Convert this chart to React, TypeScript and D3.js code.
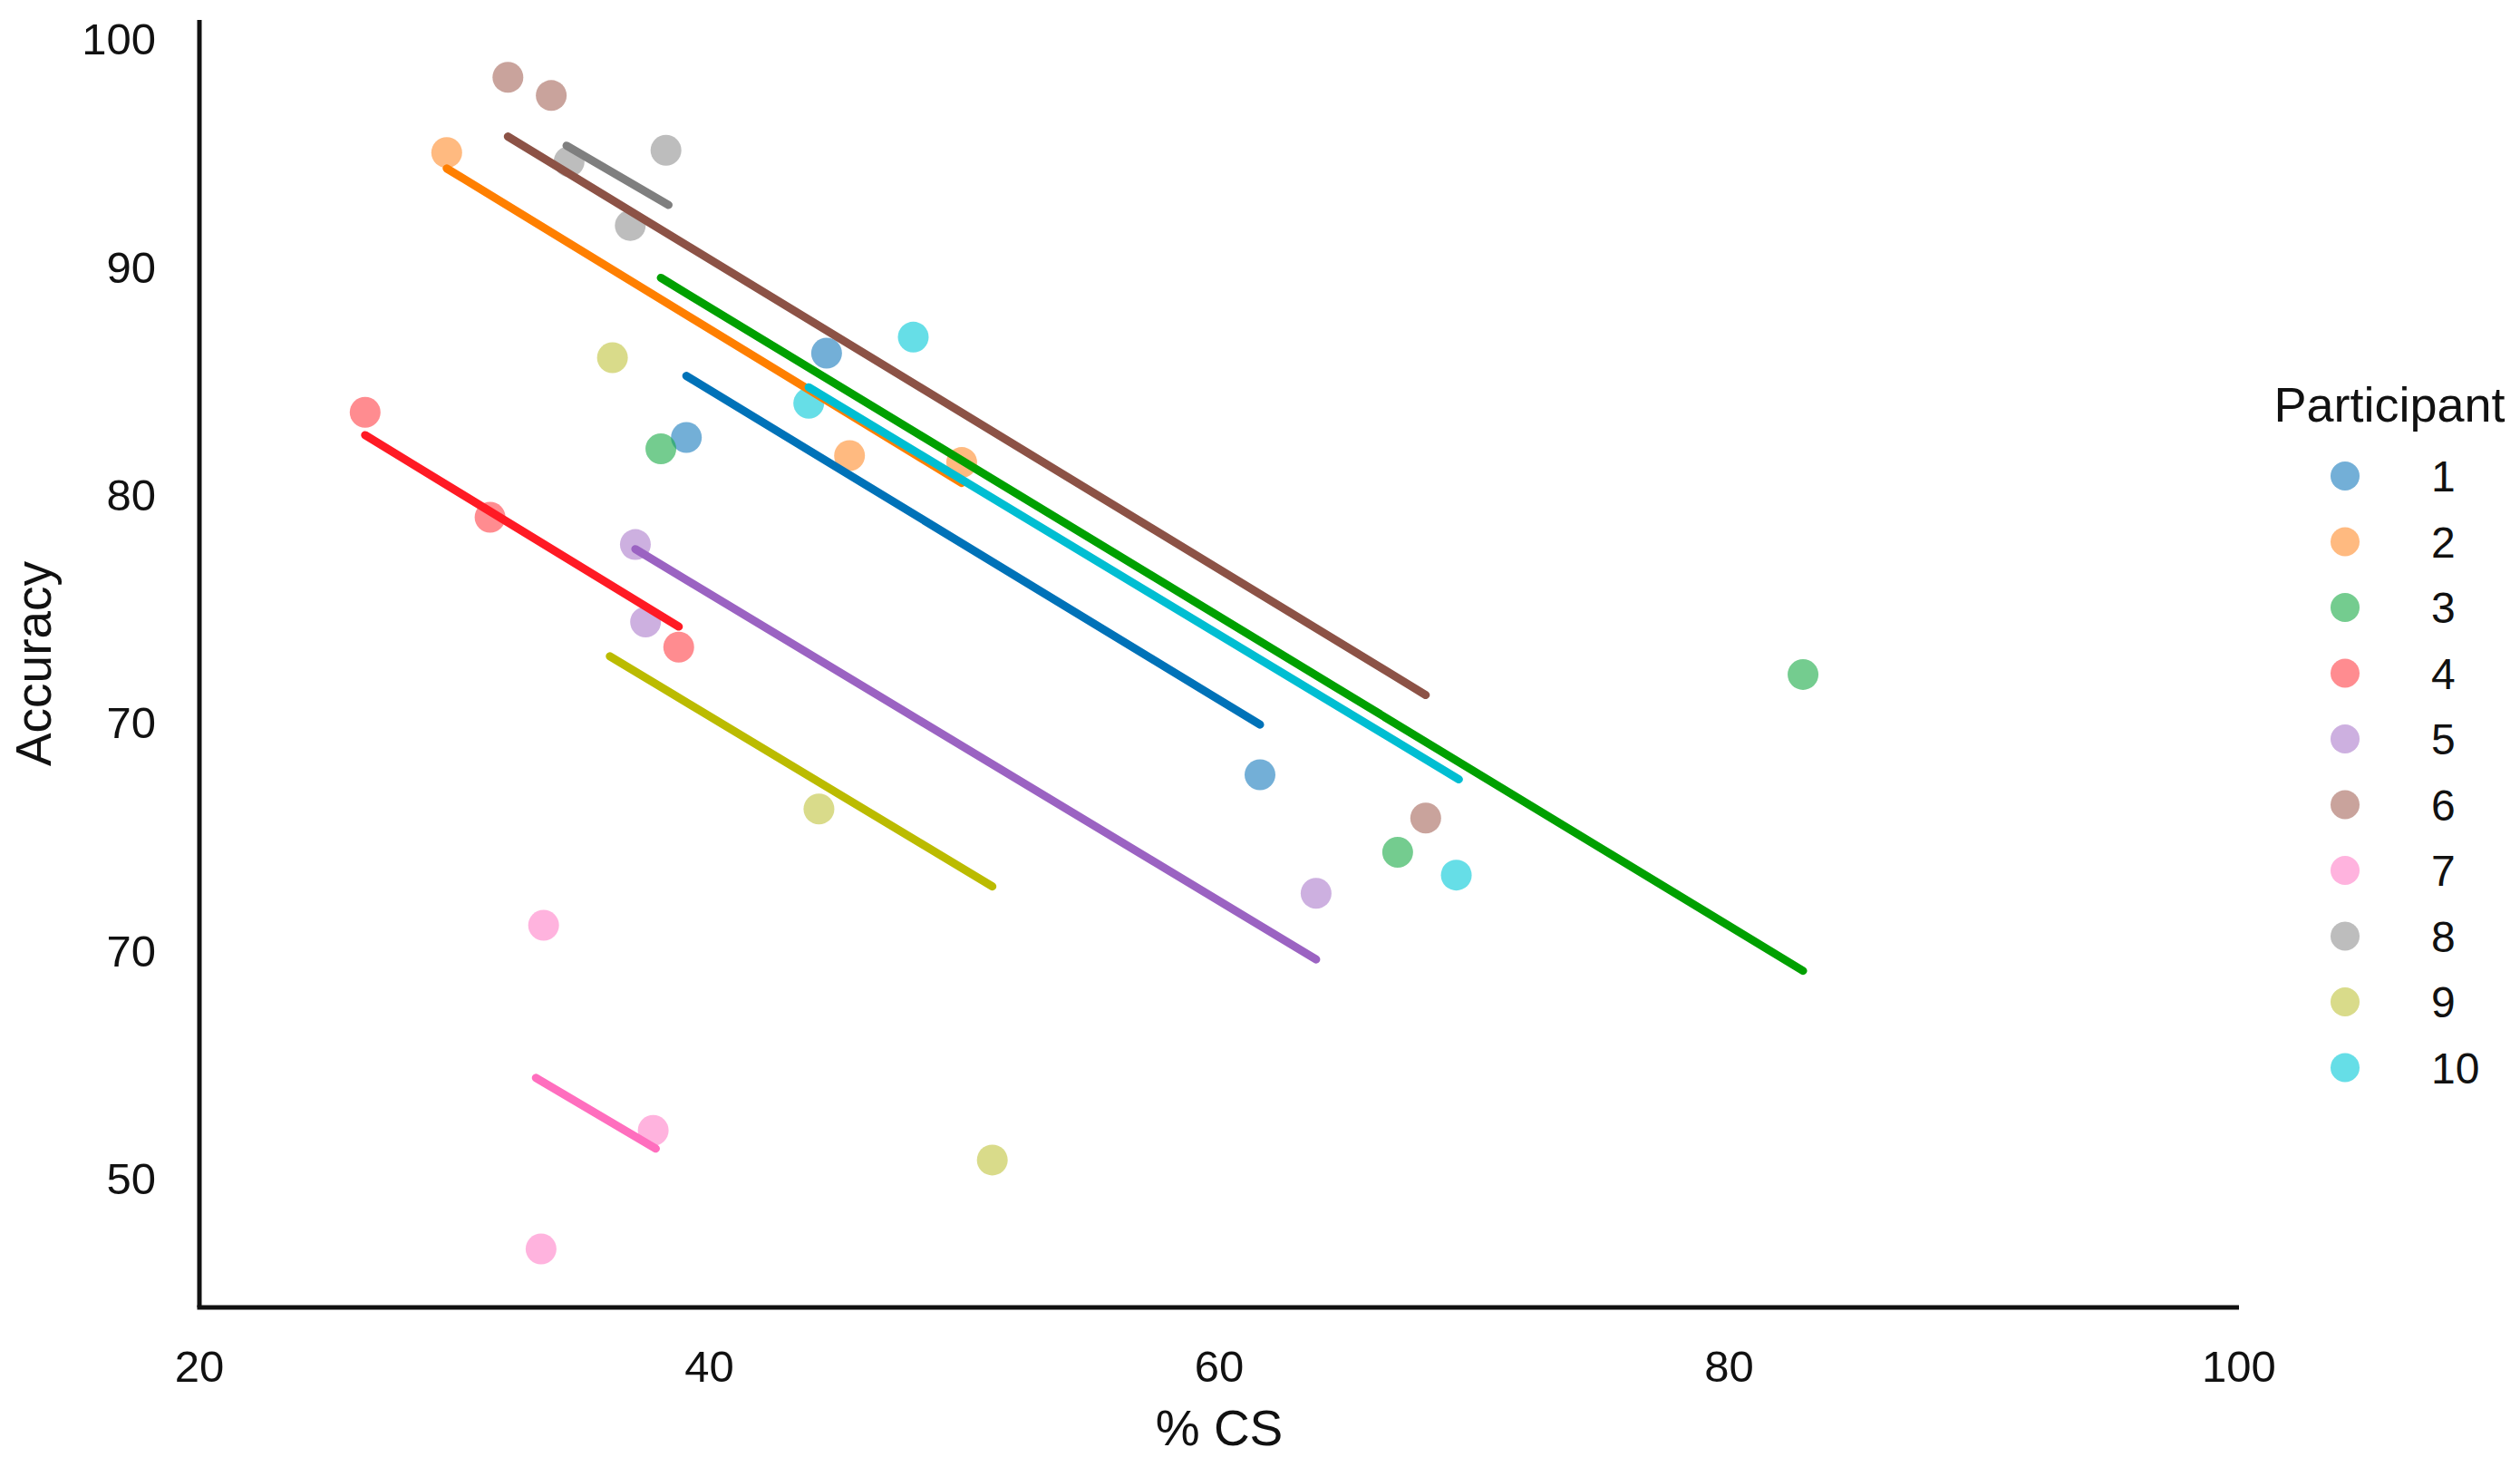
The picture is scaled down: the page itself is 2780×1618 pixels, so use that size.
import React from 'react';
import * as d3 from 'd3';

// values
const participants = ['1', '2', '3', '4', '5', '6', '7', '8', '9', '10'];

const csPct = [
  [44.6, 39.1, 61.6],
  [29.7, 45.5, 49.9],
  [38.1, 67.0, 82.9],
  [26.5, 31.4, 38.8],
  [37.1, 37.5, 63.8],
  [32.1, 33.8, 68.1],
  [33.5, 37.8, 33.4],
  [34.5, 38.3, 36.9],
  [36.2, 44.3, 51.1],
  [48.0, 43.9, 69.3],
];

const accuracy = [
  [86.2, 82.5, 67.7],
  [95.0, 81.7, 81.4],
  [82.0, 64.3, 72.1],
  [83.6, 79.0, 73.3],
  [77.8, 74.4, 62.5],
  [98.3, 97.5, 65.8],
  [61.1, 52.1, 46.9],
  [94.6, 95.1, 91.8],
  [86.0, 66.2, 50.8],
  [86.9, 84.0, 63.3],
];

// fitted line ends (x from, x to, y from, y to)
const fitX0 = [39.1, 29.7, 38.1, 26.5, 37.1, 32.1, 33.2, 34.4, 36.1, 43.9];
const fitX1 = [61.6, 49.9, 82.9, 38.8, 63.8, 68.1, 37.9, 38.4, 51.1, 69.4];
const fitY0 = [85.2, 94.3, 89.5, 82.6, 77.6, 95.7, 54.4, 95.3, 72.9, 84.7];
const fitY1 = [69.9, 80.5, 59.1, 74.2, 59.6, 71.2, 51.3, 92.7, 62.8, 67.5];

const pointColors = ['#1579bd', '#ff8c2b', '#17aa44', '#ff3f46', '#ac7bcb', '#a5665a', '#ff80c8', '#919191', '#c0c33c', '#00c8d7'];
const lineColors = ['#0072b8', '#ff7f00', '#00a000', '#ff1a24', '#9b63c2', '#8c5246', '#ff6ebe', '#7f7f7f', '#bbbb00', '#00bed2'];

const xTicks = [20, 40, 60, 80, 100];
const yTicks = [100, 90, 80, 70, 60, 50];
const yTickLabels = ['100', '90', '80', '70', '70', '50'];

const W = 2780;
const H = 1618;
const font = 'Liberation Sans, Arial, Helvetica, sans-serif';

export default function App() {
  const x = d3.scaleLinear().domain([20, 100]).range([220, 2470]);
  const y = d3.scaleLinear().domain([50, 100]).range([1299.5, 42.5]);
  const yTop = 22;
  const yBottom = 1442;

  const line = d3
    .line<[number, number]>()
    .x(d => x(d[0]))
    .y(d => y(d[1]));

  return (
    <div style={{ position: 'absolute', left: 0, top: 0 }}>
      <svg width={W} height={H} style={{ display: 'block', background: '#fff' }}>
        {/* points */}
        <g>
          {participants.map((p, i) =>
            csPct[i].map((cx, j) => (
              <circle
                key={p + '-' + j}
                cx={x(cx)}
                cy={y(accuracy[i][j])}
                r={17}
                fill={pointColors[i]}
                fillOpacity={0.6}
              />
            ))
          )}
        </g>

        {/* fitted lines */}
        <g fill="none" strokeWidth={9} strokeLinecap="round">
          {participants.map((p, i) => (
            <path
              key={'fit-' + p}
              d={line([[fitX0[i], fitY0[i]], [fitX1[i], fitY1[i]]]) || ''}
              stroke={lineColors[i]}
            />
          ))}
        </g>

        {/* spines */}
        <line x1={x(20)} x2={x(20)} y1={yTop} y2={yBottom} stroke="#111" strokeWidth={5} />
        <line x1={x(20) - 2.5} x2={x(100)} y1={yBottom} y2={yBottom} stroke="#111" strokeWidth={5} />

        {/* x tick labels */}
        <g fontFamily={font} fontSize={49} fill="#111" textAnchor="middle">
          {xTicks.map(t => (
            <text key={'xt' + t} x={x(t)} y={1524}>
              {t}
            </text>
          ))}
        </g>

        {/* y tick labels */}
        <g fontFamily={font} fontSize={49} fill="#111" textAnchor="end">
          {yTicks.map((t, i) => (
            <text key={'yt' + i} x={172} y={y(t)} dy="0.36em">
              {yTickLabels[i]}
            </text>
          ))}
        </g>

        {/* axis titles */}
        <text x={x(60)} y={1594} fontFamily={font} fontSize={55} fill="#111" textAnchor="middle">
          % CS
        </text>
        <text
          transform={`translate(56,${(yTop + yBottom) / 2}) rotate(-90)`}
          fontFamily={font}
          fontSize={55}
          fill="#111"
          textAnchor="middle"
        >
          Accuracy
        </text>

        {/* legend */}
        <g fontFamily={font} fill="#111">
          <text x={2636} y={465} fontSize={54} textAnchor="middle">
            Participant
          </text>
          {participants.map((p, i) => (
            <g key={'lg' + p} transform={`translate(0,${525 + i * 72.5})`}>
              <circle cx={2587} cy={0} r={16} fill={pointColors[i]} fillOpacity={0.6} />
              <text x={2682} y={0} dy="0.36em" fontSize={48}>
                {p}
              </text>
            </g>
          ))}
        </g>
      </svg>
    </div>
  );
}
